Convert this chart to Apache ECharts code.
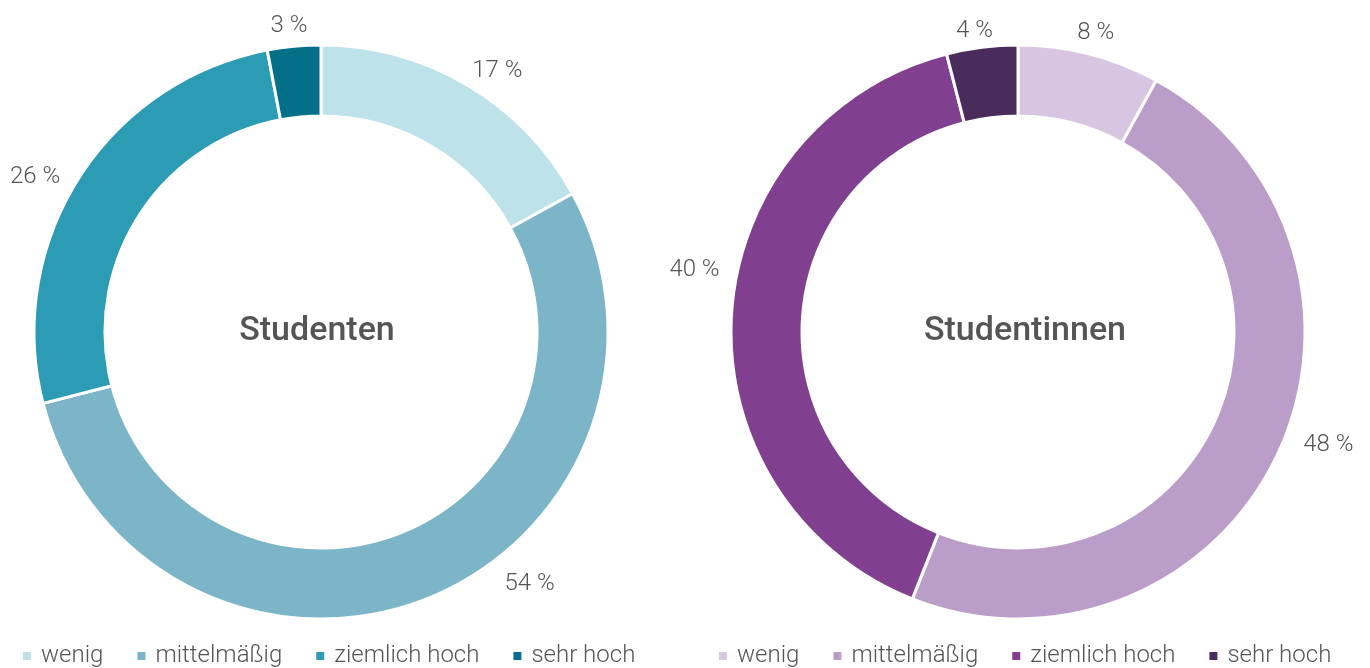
<!DOCTYPE html>
<html>
<head>
<meta charset="utf-8">
<style>
  html, body { margin: 0; padding: 0; background: #fff; }
  #chart { width: 1370px; height: 668px; }
</style>
<script src="https://cdn.jsdelivr.net/npm/echarts@6/dist/echarts.min.js"></script>
</head>
<body>
<div id="chart"></div>
<script>
// Antwortkategorien (Legende)
const categories = ['wenig', 'mittelmäßig', 'ziemlich hoch', 'sehr hoch']
// Gruppen
const groups = ['Studenten', 'Studentinnen']
// Anteile in %
const valuesStudenten = [17, 54, 26, 3]
const valuesStudentinnen = [8, 48, 40, 4]

const COLORS_STUDENTEN = ['#bde2ea', '#7cb5c8', '#2b9cb4', '#036f89']
const COLORS_STUDENTINNEN = ['#d7c5e1', '#ba9dc9', '#813f8f', '#4a2c5c']

// Feinjustierung der Beschriftungen (wie im Original frei platziert)
const LABEL_SHIFT_STUDENTEN = [[-8, 0], [67, -30], [0, 7], [20, -4]]
const LABEL_SHIFT_STUDENTINNEN = [[-21, -6], [6, -16], [9, -43], [18, 0]]

const TEXT = '#555555'
const FONT = 'Roboto, "DejaVu Sans", sans-serif'

const chart = echarts.init(document.getElementById('chart'))

// Namen müssen je Serie eindeutig sein, damit jede Legende ihre eigenen Farben zeigt
function itemName(group, cat) {
  return group + ':' + cat
}

function buildSeries(group, values, colors, shifts, center) {
  return {
    type: 'pie',
    name: group,
    center: center,
    radius: [216, 287],
    startAngle: 90,
    clockwise: true,
    avoidLabelOverlap: false,
    itemStyle: { borderColor: '#fff', borderWidth: 3 },
    label: {
      show: true,
      position: 'outside',
      formatter: '{c} %',
      color: TEXT,
      fontSize: 24,
      fontWeight: 300,
      fontFamily: FONT,
    },
    labelLine: { show: false, length: 16, length2: 0 },
    emphasis: { scale: false },
    data: values.map((v, i) => ({
      name: itemName(group, categories[i]),
      value: v,
      itemStyle: { color: colors[i] },
      label: { offset: shifts[i] },
    })),
  }
}

function buildLegend(group, left) {
  return {
    left: left,
    top: 644,
    padding: 0,
    itemWidth: 10,
    itemHeight: 10,
    itemGap: 32,
    icon: 'rect',
    textStyle: { color: TEXT, fontSize: 24, fontWeight: 300, fontFamily: FONT, padding: [0, 0, 0, 4] },
    formatter: (n) => n.split(':')[1],
    data: categories.map((c) => itemName(group, c)),
  }
}

function centerTitle(text, x) {
  return {
    type: 'text',
    x: x,
    y: 331,
    style: {
      text: text,
      textAlign: 'center',
      textVerticalAlign: 'middle',
      fill: TEXT,
      font: '500 34px ' + FONT,
    },
  }
}

chart.setOption({
  animation: false,
  legend: [buildLegend(groups[0], 21), buildLegend(groups[1], 717)],
  graphic: [centerTitle(groups[0], 317), centerTitle(groups[1], 1025)],
  series: [
    buildSeries(groups[0], valuesStudenten, COLORS_STUDENTEN, LABEL_SHIFT_STUDENTEN, [321, 332]),
    buildSeries(groups[1], valuesStudentinnen, COLORS_STUDENTINNEN, LABEL_SHIFT_STUDENTINNEN, [1018, 332]),
  ],
})
</script>
</body>
</html>
